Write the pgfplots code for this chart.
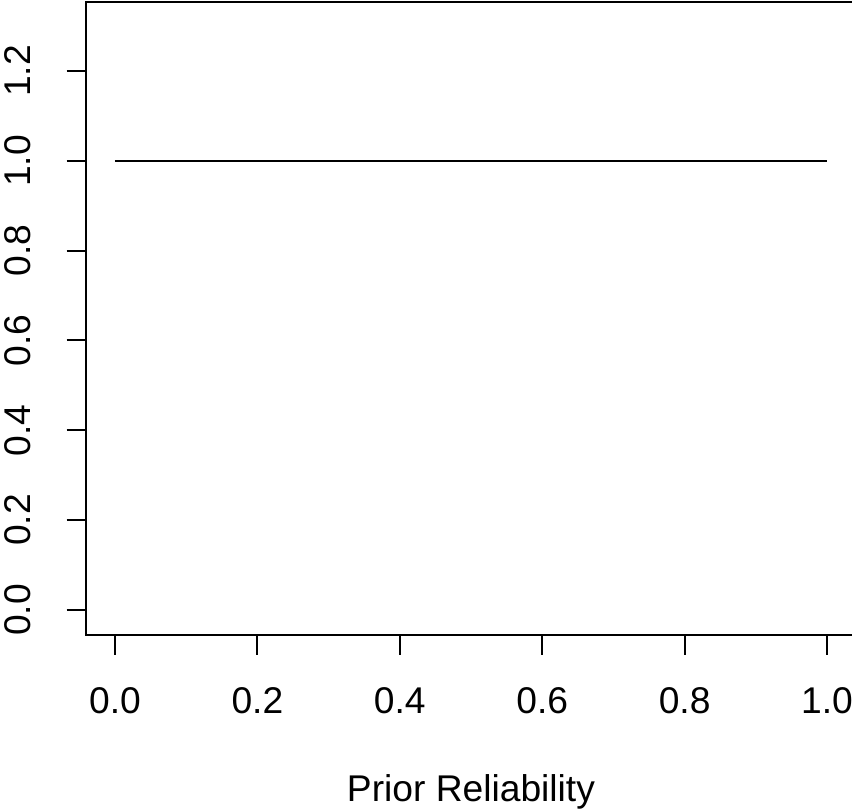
\documentclass[border=0pt]{standalone}
\usepackage{pgfplots}
\pgfplotsset{compat=1.18}
\usepackage{fontspec}
\setmainfont{Liberation Sans}
\begin{document}
\begin{tikzpicture}
\path[use as bounding box] (0,0) rectangle (426pt,406pt);
\begin{axis}[
  at={(43.25pt,88.5pt)}, anchor=south west,
  scale only axis, width=384.5pt, height=316.5pt,
  xmin=-0.04, xmax=1.04, ymin=-0.056, ymax=1.354,
  xtick={0,0.2,0.4,0.6,0.8,1.0},
  ytick={0,0.2,0.4,0.6,0.8,1.0,1.2},
  xticklabels={0.0,0.2,0.4,0.6,0.8,1.0},
  yticklabels={0.0,0.2,0.4,0.6,0.8,1.0,1.2},
  tick align=outside, major tick length=10pt,
  xtick pos=bottom, ytick pos=left,
  axis line style={line width=1pt},
  every tick/.style={black, line width=1pt},
  tick label style={font=\fontsize{18.6}{22}\selectfont},
  xticklabel style={yshift=-12.5pt},
  yticklabel style={rotate=90, anchor=south, yshift=14.5pt},
  xlabel={Prior Reliability},
  xlabel style={font=\fontsize{18.6}{22}\selectfont, yshift=-23.5pt},
]
\addplot[black, line width=1pt] coordinates {(0,1) (1,1)};
\end{axis}
\end{tikzpicture}
\end{document}
